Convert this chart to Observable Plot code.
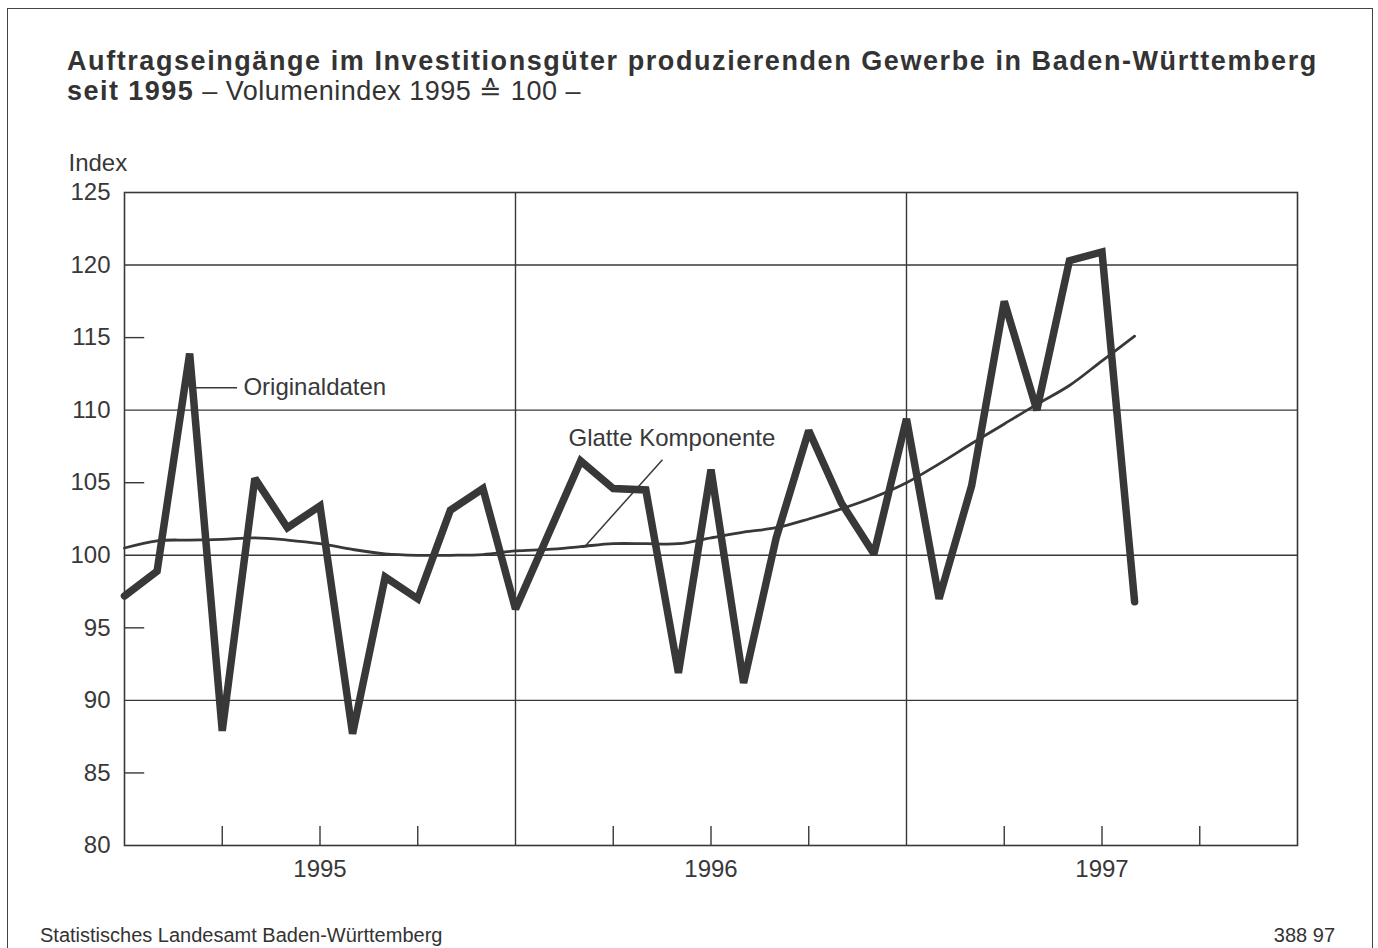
<!DOCTYPE html>
<html>
<head>
<meta charset="utf-8">
<script src="https://cdn.jsdelivr.net/npm/d3@7"></script>
<script src="https://cdn.jsdelivr.net/npm/@observablehq/plot@0.6"></script>
<style>
  html, body { margin: 0; padding: 0; background: #fff; width: 1378px; height: 948px; overflow: hidden;
    font-family: "Liberation Sans", Arial, Helvetica, sans-serif; color: #333; }
  #border { position: absolute; left: 7px; top: 8px; width: 1366px; height: 990px; border: 1.5px solid #444; box-sizing: border-box; z-index: 2; pointer-events: none; }
  .title { position: absolute; left: 67px; font-size: 27px; letter-spacing: 1.57px; line-height: 30px; height: 30px; white-space: nowrap; color: #333; }
  #t1 { top: 46px; font-weight: bold; }
  #t2 { top: 76px; letter-spacing: 1.45px; }
  #t2 b { font-weight: bold; }
  #t2 .reg { letter-spacing: 0.5px; }
  #chart { position: absolute; left: 0; top: 140px; }
  #source { position: absolute; left: 40px; top: 925px; font-size: 20px; line-height: 20px; color: #333; }
  #code { position: absolute; right: 43px; top: 925px; font-size: 20px; line-height: 20px; color: #333; }
</style>
</head>
<body>
<div id="border"></div>
<div class="title" id="t1">Auftragseingänge im Investitionsgüter produzierenden Gewerbe in Baden-Württemberg</div>
<div class="title" id="t2"><b>seit 1995</b><span class="reg"> – Volumenindex 1995 ≙ 100 –</span></div>
<div id="chart"></div>
<div id="source">Statistisches Landesamt Baden-Württemberg</div>
<div id="code">388 97</div>
<script>
// Months Jan 1995 – Aug 1997
const months = [
  "1995-01","1995-02","1995-03","1995-04","1995-05","1995-06","1995-07","1995-08","1995-09","1995-10","1995-11","1995-12",
  "1996-01","1996-02","1996-03","1996-04","1996-05","1996-06","1996-07","1996-08","1996-09","1996-10","1996-11","1996-12",
  "1997-01","1997-02","1997-03","1997-04","1997-05","1997-06","1997-07","1997-08"
];
// Originaldaten
const original = [
  97.2, 98.9, 113.9, 87.9, 105.3, 101.9, 103.4, 87.7, 98.5, 97.0, 103.1, 104.6,
  96.3, 101.4, 106.5, 104.6, 104.5, 91.9, 105.9, 91.2, 101.2, 108.6, 103.6, 100.1,
  109.4, 97.0, 104.8, 117.5, 110.0, 120.3, 120.9, 96.8
];
// Glatte Komponente
const smooth = [
  100.5, 101.0, 101.05, 101.1, 101.2, 101.05, 100.8, 100.4, 100.1, 100.0, 100.0, 100.05,
  100.3, 100.4, 100.6, 100.8, 100.8, 100.8, 101.2, 101.6, 101.9, 102.5, 103.2, 104.0,
  105.0, 106.3, 107.7, 109.05, 110.4, 111.7, 113.4, 115.1
];
const years = ["1995", "1996", "1997"];
const yTicks = [80, 85, 90, 95, 100, 105, 110, 115, 120, 125];
const gridY = [90, 100, 110, 120];
const minorY = [85, 95, 105, 115];
const yearStarts = [12, 24];
const yearCenters = [6, 18, 30];
const quarterTicks = [3, 6, 9, 15, 18, 21, 27, 30, 33];

const data = months.map((m, i) => ({i, month: m, original: original[i], smooth: smooth[i]}));
const ink = "#383838";

const chart = Plot.plot({
  width: 1378,
  height: 750,
  marginTop: 52,
  marginLeft: 124,
  marginRight: 81,
  marginBottom: 45,
  style: {fontFamily: "'Liberation Sans', Arial, sans-serif", fontSize: "24px", color: ink, background: "transparent", overflow: "visible"},
  x: {type: "linear", domain: [0, 36]},
  y: {domain: [80, 125]},
  marks: [
    Plot.ruleY(gridY, {stroke: ink, strokeWidth: 1.4}),
    Plot.ruleX(yearStarts, {stroke: ink, strokeWidth: 1.4}),
    Plot.ruleY(minorY, {x1: 0, x2: 0.62, stroke: ink, strokeWidth: 1.4}),
    Plot.ruleX(quarterTicks, {y1: 80, y2: 81.31, stroke: ink, strokeWidth: 1.4}),
    Plot.frame({stroke: ink, strokeWidth: 1.6}),
    Plot.axisY(yTicks, {tickSize: 0, tickPadding: 14, fontSize: 24, label: null, fill: ink}),
    Plot.axisX(yearCenters, {tickSize: 0, tickPadding: 14, fontSize: 24, label: null, fill: ink,
      tickFormat: d => years[Math.round((d - 6) / 12)]}),
    Plot.line(data, {x: "i", y: "smooth", stroke: ink, strokeWidth: 2.8, curve: "catmull-rom"}),
    Plot.line(data, {x: "i", y: "original", stroke: ink, strokeWidth: 7.5, strokeLinejoin: "miter", strokeMiterlimit: 2}),
    Plot.ruleY([111.55], {x1: 2.18, x2: 3.47, stroke: ink, strokeWidth: 1.5}),
    Plot.text(["Originaldaten"], {text: d => d, x: 3.65, y: 111.6, textAnchor: "start", fontSize: 24, fill: ink}),
    Plot.link([0], {x1: 16.51, y1: 106.59, x2: 14.15, y2: 100.66, stroke: ink, strokeWidth: 1.5}),
    Plot.text(["Glatte Komponente"], {text: d => d, x: 16.8, y: 108.03, fontSize: 24, fill: ink}),
    Plot.text(["Index"], {text: d => d, frameAnchor: "top-left", lineAnchor: "middle", dx: -56, dy: -29, textAnchor: "start", fontSize: 24, fill: ink})
  ]
});
document.getElementById("chart").appendChild(chart);
</script>
</body>
</html>
